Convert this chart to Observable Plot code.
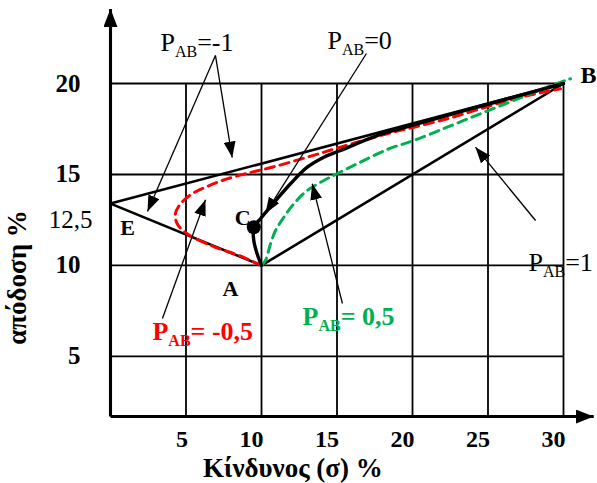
<!DOCTYPE html>
<html>
<head>
<meta charset="utf-8">
<script src="https://cdn.jsdelivr.net/npm/d3@7"></script>
<script src="https://cdn.jsdelivr.net/npm/@observablehq/plot@0.6"></script>
<style>
  body { margin: 0; background: #fff; }
</style>
</head>
<body>
<div id="chart"></div>
<script>
// Two-asset portfolios A and B: risk σ (%) against expected return (%)
// for several correlation coefficients ρ_AB.

const xTicks = [5, 10, 15, 20, 25, 30];
const yTicks = [5, 10, 15, 20];
const yExtraTick = 12.5;
const yExtraTickLabel = "12,5";

const pointNames = ["A", "B", "E", "C"];
const pointRisk = [10, 30, 0, 9.49];
const pointReturn = [10, 20, 13.4, 12.1];

// ρ = -1 : B → E → A
const rhoM1Risk = [30, 0, 10];
const rhoM1Return = [20, 13.4, 10];

// ρ = 1 : A → B
const rhoP1Risk = [10, 30];
const rhoP1Return = [10, 20];

// ρ = -0.5
const rhoM05Risk = [10, 8.5, 6.95, 5.08, 4.42, 4.3, 4.64, 5.41, 6.29, 7.4, 8.94, 10.71, 13.03, 15.23, 18.32, 20.09, 22.3, 24.5, 26.71, 29.8];
const rhoM05Return = [10, 10.55, 11.0, 11.74, 12.29, 12.84, 13.39, 13.94, 14.3, 14.67, 15.04, 15.4, 15.95, 16.5, 17.24, 17.6, 18.06, 18.61, 19.16, 19.71];

// ρ = 0
const rho0Risk = [10, 9.71, 9.49, 9.49, 9.93, 10.38, 11.04, 11.92, 13.03, 14.13, 15.23, 17.88, 20.09, 24.5, 30];
const rho0Return = [10, 10.64, 11.37, 12.1, 12.57, 13.02, 13.66, 14.49, 15.4, 15.95, 16.32, 17.2, 17.72, 18.75, 20];

// ρ = 0.5
const rhoP05Risk = [10, 10.26, 10.6, 10.93, 11.48, 12.14, 13.03, 14.13, 15.01, 16.34, 18.32, 20.09, 22.3, 24.5, 26.71, 28.92, 30.46];
const rhoP05Return = [10, 10.27, 11.19, 11.92, 12.65, 13.39, 14.12, 14.67, 15.04, 15.59, 16.37, 16.87, 17.6, 18.34, 19.07, 19.8, 20.26];

// Correlation labels and their pointer arrows
const noteLabels = ["P_AB=-1", "P_AB=0", "P_AB=1"];
const noteRisk = [3.31, 14.37, 27.68];
const noteReturn = [22.25, 22.36, 10.18];

const redLabel = "P_AB= -0,5";
const redRisk = 2.78, redReturn = 6.37;
const greenLabel = "P_AB= 0,5";
const greenRisk = 12.72, greenReturn = 7.2;

const arrowFromRisk = [6.95, 6.95, 16.95, 28.15, 3.44, 15.36];
const arrowFromReturn = [21.54, 21.54, 21.65, 12.47, 7.09, 7.91];
const arrowToRisk = [2.45, 8.06, 10.26, 24.17, 6.29, 13.36];
const arrowToReturn = [12.97, 15.93, 12.86, 16.5, 13.61, 14.49];

// ---------------------------------------------------------------
const yBase = 1.7;      // return level where the σ axis is drawn
const yAxisTop = 24.1;  // tip of the return axis arrow
const xAxisEnd = 32;    // tip of the σ axis arrow

const serif = "'Liberation Serif', 'Times New Roman', serif";
const RED = "#ff0000";
const GREEN = "#00b050";
const AXIS_W = 3.1;
const POINTER_W = 1.3;

const pts = (xs, ys) => xs.map((x, i) => ({x, y: ys[i]}));
const points = pointNames.map((name, i) => ({name, x: pointRisk[i], y: pointReturn[i]}));
const arrows = arrowFromRisk.map((x1, i) => ({
  x1, y1: arrowFromReturn[i], x2: arrowToRisk[i], y2: arrowToReturn[i]
}));
const notes = noteLabels.map((t, i) => ({t, x: noteRisk[i], y: noteReturn[i]}));

const labelOffsets = {A: [-31, 23], B: [25, -8], E: [17, 24], C: [-11, -9]};
const labelSizes = {A: 22, B: 24, E: 22, C: 22};

const chart = Plot.plot({
  width: 597,
  height: 483,
  marginLeft: 110,
  marginRight: 34,
  marginTop: 83,
  marginBottom: 67,
  x: {domain: [0, 30], axis: null},
  y: {domain: [yBase, 20], axis: null},
  style: {fontFamily: serif, background: "#fff", overflow: "visible"},
  marks: [
    // grid
    Plot.ruleX(xTicks, {y1: yBase, y2: 20, stroke: "#000", strokeWidth: 1.8}),
    Plot.ruleY(yTicks, {x1: 0, x2: 30, stroke: "#000", strokeWidth: 1.8}),

    // axes with arrow heads
    Plot.link([{x1: 0, y1: yBase, x2: 0, y2: yAxisTop}, {x1: 0, y1: yBase, x2: xAxisEnd, y2: yBase}], {
      x1: "x1", y1: "y1", x2: "x2", y2: "y2",
      stroke: "#000", strokeWidth: AXIS_W
    }),

    // ρ = ±1 straight segments
    Plot.line(pts(rhoM1Risk, rhoM1Return), {x: "x", y: "y", stroke: "#000", strokeWidth: 2.6}),
    Plot.line(pts(rhoP1Risk, rhoP1Return), {x: "x", y: "y", stroke: "#000", strokeWidth: 2.6}),

    // ρ = -0.5 and ρ = 0.5 dashed curves
    Plot.line(pts(rhoM05Risk, rhoM05Return), {
      x: "x", y: "y", curve: "catmull-rom", stroke: RED, strokeWidth: 3, strokeDasharray: "9,6"
    }),
    Plot.line(pts(rhoP05Risk, rhoP05Return), {
      x: "x", y: "y", curve: "catmull-rom", stroke: GREEN, strokeWidth: 3, strokeDasharray: "9,6"
    }),

    // ρ = 0 curve
    Plot.line(pts(rho0Risk, rho0Return), {
      x: "x", y: "y", curve: "catmull-rom", stroke: "#000", strokeWidth: 3.4
    }),

    // minimum-variance portfolio C
    Plot.dot(points.filter(d => d.name === "C"), {x: "x", y: "y", r: 7, fill: "#000"}),

    // pointer arrows
    Plot.link(arrows, {
      x1: "x1", y1: "y1", x2: "x2", y2: "y2",
      stroke: "#000", strokeWidth: POINTER_W
    }),

    // tick labels
    Plot.text(xTicks, {
      x: d => d, y: yBase, dy: 23, dx: 2, text: d => String(d), textAnchor: "end",
      fontSize: 24, fontWeight: "bold", fill: "#000"
    }),
    Plot.text(yTicks, {
      x: 0, y: d => d, dx: -30, text: d => String(d), textAnchor: "end",
      fontSize: 25, fontWeight: "bold", fill: "#000"
    }),
    Plot.text([yExtraTick], {
      x: 0, y: d => d, dx: -18, text: () => yExtraTickLabel, textAnchor: "end",
      fontSize: 25, fill: "#000"
    }),

    // axis titles
    Plot.text(["Κίνδυνος (σ) %"], {
      x: 12.08, y: yBase, dy: 52, text: d => d, fontSize: 27, fontWeight: "bold", fill: "#000"
    }),
    Plot.text(["απόδοση %"], {
      x: -6.2, y: 9.34, rotate: -90, text: d => d, fontSize: 27, fontWeight: "bold", fill: "#000"
    }),

    // point labels
    ...points.map(p => Plot.text([p], {
      x: "x", y: "y", text: "name",
      dx: labelOffsets[p.name][0], dy: labelOffsets[p.name][1],
      fontSize: labelSizes[p.name], fontWeight: "bold", fill: "#000"
    })),

    // correlation labels
    Plot.text(notes, {x: "x", y: "y", text: "t", textAnchor: "start", fontSize: 26, fill: "#000"}),
    Plot.text([redLabel], {
      x: redRisk, y: redReturn, text: d => d, textAnchor: "start",
      fontSize: 26, fontWeight: "bold", fill: RED
    }),
    Plot.text([greenLabel], {
      x: greenRisk, y: greenReturn, text: d => d, textAnchor: "start",
      fontSize: 26, fontWeight: "bold", fill: GREEN
    })
  ]
});

// filled arrow heads
const svg = d3.select(chart);
const defs = svg.insert("defs", ":first-child");
function head(id, len, wid) {
  defs.append("marker")
    .attr("id", id)
    .attr("viewBox", `0 0 ${len} ${wid}`)
    .attr("markerWidth", len)
    .attr("markerHeight", wid)
    .attr("refX", len)
    .attr("refY", wid / 2)
    .attr("orient", "auto")
    .attr("markerUnits", "userSpaceOnUse")
    .append("path")
    .attr("d", `M0,0L${len},${wid / 2}L0,${wid}Z`)
    .attr("fill", "#000")
    .attr("stroke", "none");
}
head("axis-head", 18, 14);
head("note-head", 16, 12);

function strokeWidthOf(el) {
  let n = el;
  while (n && n !== chart) {
    const w = n.getAttribute && n.getAttribute("stroke-width");
    if (w != null) return +w;
    n = n.parentNode;
  }
  return NaN;
}
svg.selectAll("path").each(function () {
  if (this.closest("marker")) return;
  const w = strokeWidthOf(this);
  if (w === AXIS_W) this.setAttribute("marker-end", "url(#axis-head)");
  else if (w === POINTER_W) this.setAttribute("marker-end", "url(#note-head)");
});

// subscript "AB" in the correlation labels
svg.selectAll("text").each(function () {
  const m = /^P_AB(.*)$/.exec(this.textContent);
  if (!m) return;
  const t = d3.select(this);
  t.text(null);
  t.append("tspan").text("P");
  t.append("tspan").attr("font-size", "16px").attr("dy", 6).text("AB");
  t.append("tspan").attr("dy", -6).text(m[1]);
});

document.getElementById("chart").appendChild(chart);
</script>
</body>
</html>
